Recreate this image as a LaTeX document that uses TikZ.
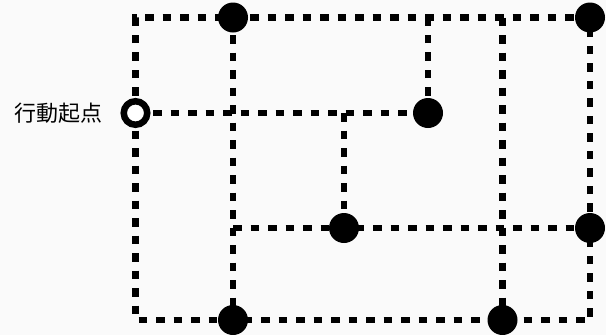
\documentclass[tikz,border=0pt]{standalone}
\usepackage{fontspec}
\newfontfamily\cjk{Noto Sans CJK JP}
\definecolor{bg}{HTML}{FAFAFA}
\begin{document}
\begin{tikzpicture}[x=1pt,y=-1pt,
  route/.style={line width=6.5pt, dash pattern=on 8.5pt off 9pt},
  dot/.style={circle, fill=black, minimum size=30pt, inner sep=0pt},
  startdot/.style={circle, draw=black, line width=6.5pt, fill=white, minimum size=23.5pt, inner sep=0pt},
  lbl/.style={font=\cjk\fontsize{22pt}{26pt}\selectfont, anchor=east, inner sep=0pt}]
\fill[bg] (0,0) rectangle (606,335);
\useasboundingbox (0,0) rectangle (606,335);
% coordinates
\coordinate (TL) at (135.5,17.5);
\coordinate (T1) at (428,17.5);
\coordinate (T2) at (502.5,17.5);
\coordinate (BL) at (135.5,320);
\coordinate (BR) at (590,320);
\coordinate (M1) at (344,113);
\coordinate (M2) at (233,228);
% node positions (drawn later)
\path (233,17.5) coordinate (pA) (590,17.5) coordinate (pB) (135.5,113) coordinate (pS)
      (428,113) coordinate (pC) (344,228) coordinate (pD) (590,228) coordinate (pE)
      (233,320) coordinate (pF) (502.5,320) coordinate (pG);
% connectors
\draw[route] (pS) -- (TL) -- (pB);
\draw[route] (pS) -- (BL) -- (BR) -- (pB);
\draw[route] (pA) -- (pF);
\draw[route] (pS) -- (pC);
\draw[route] (pC) -- (T1);
\draw[route] (M1) -- (pD);
\draw[route] (M2) -- (pE);
\draw[route] (T2) -- (pG);
% nodes
\node[dot] (A) at (pA) {};
\node[dot] (B) at (pB) {};
\node[dot] (C) at (pC) {};
\node[dot] (D) at (pD) {};
\node[dot] (E) at (pE) {};
\node[dot] (F) at (pF) {};
\node[dot] (G) at (pG) {};
\node[startdot] (S) at (pS) {};
\node[lbl] (L) at (103,113) {行動起点};
\end{tikzpicture}
\end{document}
